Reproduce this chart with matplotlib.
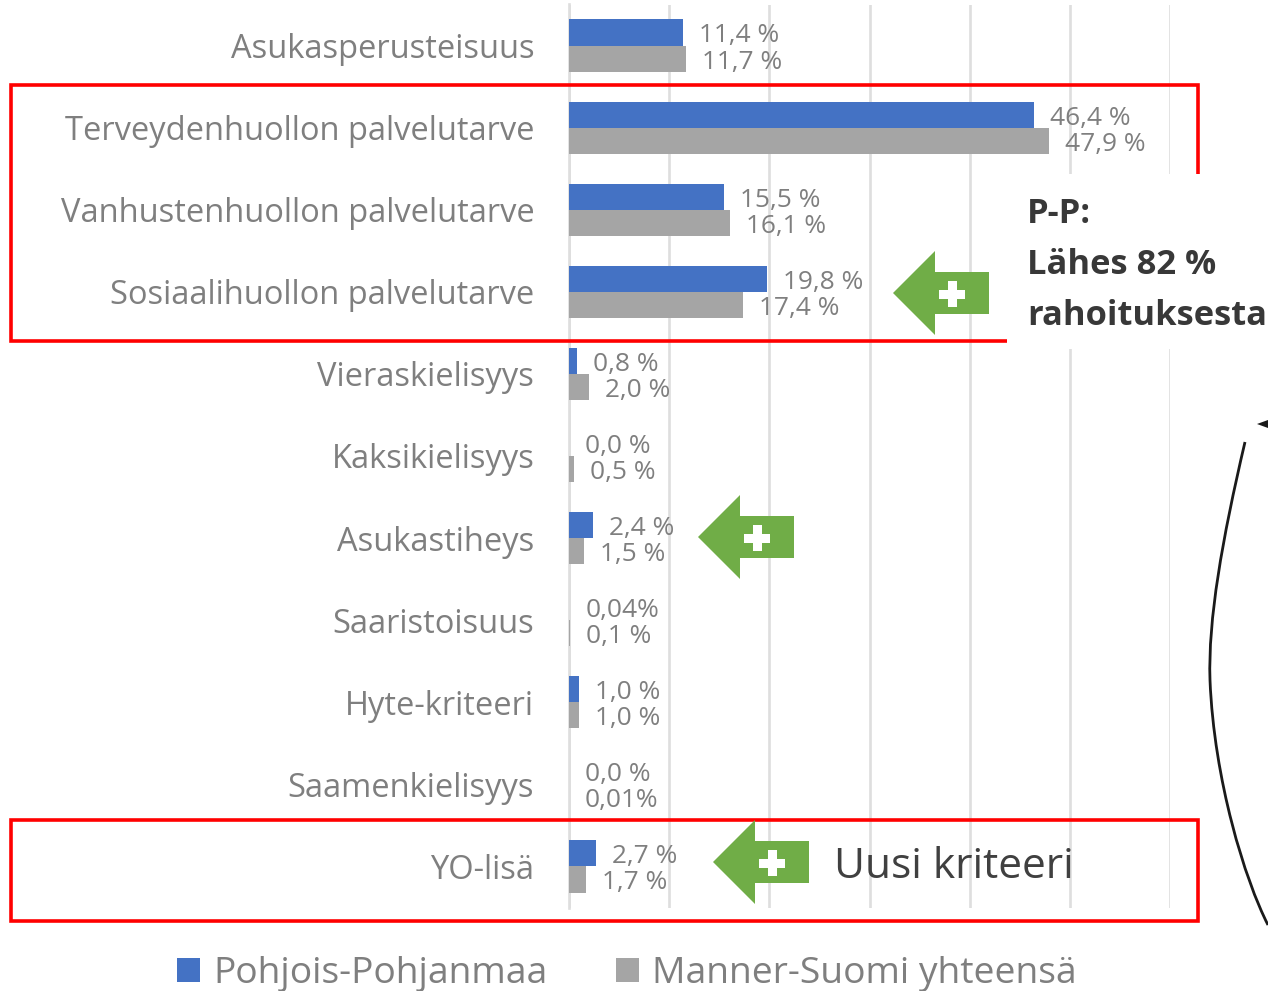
import matplotlib
matplotlib.use("Agg")
import matplotlib.pyplot as plt
from matplotlib.patches import Polygon, Rectangle, PathPatch
from matplotlib.path import Path

categories = ["Asukasperusteisuus", "Terveydenhuollon palvelutarve", "Vanhustenhuollon palvelutarve",
              "Sosiaalihuollon palvelutarve", "Vieraskielisyys", "Kaksikielisyys", "Asukastiheys",
              "Saaristoisuus", "Hyte-kriteeri", "Saamenkielisyys", "YO-lisä"]
pohjois = [11.4, 46.4, 15.5, 19.8, 0.8, 0.0, 2.4, 0.04, 1.0, 0.0, 2.7]
manner = [11.7, 47.9, 16.1, 17.4, 2.0, 0.5, 1.5, 0.1, 1.0, 0.01, 1.7]
pohjois_labels = ["11,4 %", "46,4 %", "15,5 %", "19,8 %", "0,8 %", "0,0 %", "2,4 %", "0,04%", "1,0 %", "0,0 %", "2,7 %"]
manner_labels = ["11,7 %", "47,9 %", "16,1 %", "17,4 %", "2,0 %", "0,5 %", "1,5 %", "0,1 %", "1,0 %", "0,01%", "1,7 %"]
series_names = ["Pohjois-Pohjanmaa", "Manner-Suomi yhteensä"]

W, H = 1268, 991
BLUE, GREY = "#4472C4", "#A5A5A5"
TXT = "#7F7F7F"
plt.rcParams["font.family"] = ["Open Sans", "DejaVu Sans"]

fig = plt.figure(figsize=(W / 100, H / 100), dpi=100, facecolor="white")
ax = fig.add_axes([569 / W, 1 - 907.5 / H, (1170 - 569) / W, (907.5 - 4.5) / H])

ypos = list(range(len(categories)))
h = 0.318
ax.barh([y - h / 2 for y in ypos], pohjois, height=h, color=BLUE, zorder=3, label=series_names[0])
ax.barh([y + h / 2 for y in ypos], manner, height=h, color=GREY, zorder=3, label=series_names[1])
ax.set_xlim(0, 60)
ax.set_ylim(10.5, -0.5)
ax.set_xticks(range(0, 61, 10))
ax.xaxis.grid(True, color="#DEDEDE", lw=1.9, zorder=0)
ax.yaxis.grid(False)
ax.tick_params(axis="x", length=0, labelbottom=False)
ax.tick_params(axis="y", length=0, pad=25, labelsize=23.5, labelcolor=TXT)
ax.set_yticks(ypos)
ax.set_yticklabels(categories)
for s in ["top", "right", "bottom"]:
    ax.spines[s].set_visible(False)
ax.spines["left"].set_color("#DEDEDE")
ax.spines["left"].set_linewidth(1.9)

for y, v, t in zip(ypos, pohjois, pohjois_labels):
    ax.annotate(t, (v, y - h / 2), xytext=(11.5, -2.5), textcoords="offset points",
                va="center", ha="left", fontsize=18.9, color=TXT, zorder=4)
for y, v, t in zip(ypos, manner, manner_labels):
    ax.annotate(t, (v, y + h / 2), xytext=(11.5, -2.5), textcoords="offset points",
                va="center", ha="left", fontsize=18.9, color=TXT, zorder=4)

leg = ax.legend(loc="center", bbox_to_anchor=(627 / W, 1 - 974 / H), bbox_transform=fig.transFigure,
                ncol=2, frameon=False, fontsize=26.8, handlelength=0.62, handleheight=0.62,
                handletextpad=0.35, columnspacing=1.85, labelcolor=TXT, borderpad=0, borderaxespad=0)

# overlay annotations in pixel coordinates
ov = fig.add_axes([0, 0, 1, 1], facecolor="none")
ov.set_xlim(0, W)
ov.set_ylim(H, 0)
ov.axis("off")

RED = "#FF0000"
ov.add_patch(Rectangle((10.5, 85), 1187.5, 256, fill=False, ec=RED, lw=2.6, zorder=2))
ov.add_patch(Rectangle((10.5, 820), 1187.5, 101, fill=False, ec=RED, lw=2.6, zorder=2))
ov.add_patch(Rectangle((1007, 174), 261, 175, fc="white", ec="none", zorder=3))
ptxt = dict(fontsize=24.8, fontweight="bold", color="#383838", va="center", ha="left", zorder=4)
ov.text(1027, 214, "P-P:", **ptxt)
ov.text(1027, 265, "Lähes 82 %", **ptxt)
ov.text(1027, 316, "rahoituksesta", **ptxt)
ov.text(834, 867, "Uusi kriteeri", fontsize=30.5, color="#404040", va="center", ha="left", zorder=4)

GREEN = "#70AD47"
def plus_arrow(tx, ty):
    pts = [(tx, ty), (tx + 42, ty - 42), (tx + 42, ty - 21), (tx + 96, ty - 21),
           (tx + 96, ty + 21), (tx + 42, ty + 21), (tx + 42, ty + 42)]
    ov.add_patch(Polygon(pts, closed=True, fc=GREEN, ec="none", zorder=5))
    cx, cy = tx + 59, ty + 1
    ov.add_patch(Rectangle((cx - 13, cy - 4.5), 26, 9, fc="white", ec="none", zorder=6))
    ov.add_patch(Rectangle((cx - 4.5, cy - 13), 9, 26, fc="white", ec="none", zorder=6))
plus_arrow(893, 293)
plus_arrow(698, 537)
plus_arrow(713, 862)

curve = Path([(1245, 442), (1222, 540), (1208, 620), (1210, 680), (1214, 780), (1245, 880), (1268, 925)],
             [Path.MOVETO] + [Path.CURVE4] * 6)
ov.add_patch(PathPatch(curve, fc="none", ec="#1A1A1A", lw=2, zorder=2))
ov.add_patch(Polygon([(1257, 424), (1268, 420), (1268, 428)], closed=True, fc="#1A1A1A", ec="none", zorder=2))

fig.savefig("out.png", dpi=100)
